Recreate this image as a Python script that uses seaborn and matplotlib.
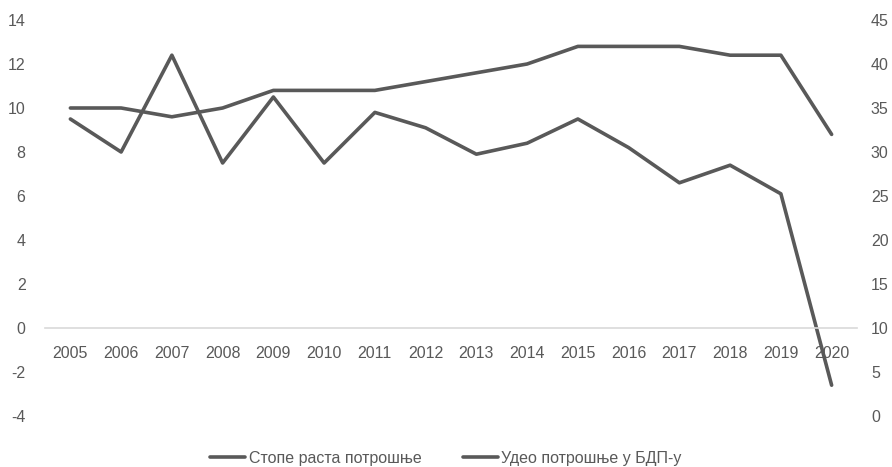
import matplotlib
matplotlib.use("Agg")
import matplotlib.pyplot as plt
import seaborn as sns
import pandas as pd

# Data
years = [str(y) for y in range(2005, 2021)]
growth = [9.5, 8.0, 12.4, 7.5, 10.5, 7.5, 9.8, 9.1, 7.9, 8.4, 9.5, 8.2, 6.6, 7.4, 6.1, -2.6]
share = [35, 35, 34, 35, 37, 37, 37, 38, 39, 40, 42, 42, 42, 41, 41, 32]
label_growth = "Стопе раста потрошње"
label_share = "Удео потрошње у БДП-у"

df = pd.DataFrame({"year": years, "growth": growth, "share": share})

sns.set_style("white")
plt.rcParams["font.family"] = ["Liberation Sans Narrow", "Liberation Sans", "DejaVu Sans"]
plt.rcParams["axes.unicode_minus"] = False

line_color = "#595959"
text_color = "#595959"

fig = plt.figure(figsize=(8.92, 4.67), dpi=100)
ax = fig.add_axes([45 / 892, 1 - 416 / 467, 812 / 892, 396 / 467])
ax2 = ax.twinx()

sns.lineplot(data=df, x="year", y="growth", ax=ax, color=line_color, linewidth=2.6,
             sort=False, label=label_growth, legend=False)
sns.lineplot(data=df, x="year", y="share", ax=ax2, color=line_color, linewidth=2.6,
             sort=False, label=label_share, legend=False)

ax.set_ylim(-4, 14)
ax.set_yticks(range(-4, 15, 2))
ax2.set_ylim(0, 45)
ax2.set_yticks(range(0, 46, 5))
ax.set_xlim(-0.5, len(years) - 0.5)

for a in (ax, ax2):
    a.set_xlabel("")
    a.set_ylabel("")
    for s in a.spines.values():
        s.set_visible(False)

ax.spines["bottom"].set_visible(True)
ax.spines["bottom"].set_position(("data", 0))
ax.spines["bottom"].set_color("#d9d9d9")
ax.spines["bottom"].set_linewidth(1.2)

ax.tick_params(axis="x", length=0, pad=13, labelsize=11.5, colors=text_color)
ax.tick_params(axis="y", length=0, pad=14, labelsize=11.5, colors=text_color)
ax2.tick_params(axis="y", length=0, pad=10, labelsize=11.5, colors=text_color)

h1, l1 = ax.get_legend_handles_labels()
h2, l2 = ax2.get_legend_handles_labels()
fig.legend(h1 + h2, l1 + l2, loc="center", bbox_to_anchor=(0.5, 1 - 458 / 467),
           ncol=2, frameon=False, fontsize=11.5, handlelength=2.2, handletextpad=0.2,
           columnspacing=2.6, labelcolor=text_color)

fig.savefig("out.png", dpi=100)
